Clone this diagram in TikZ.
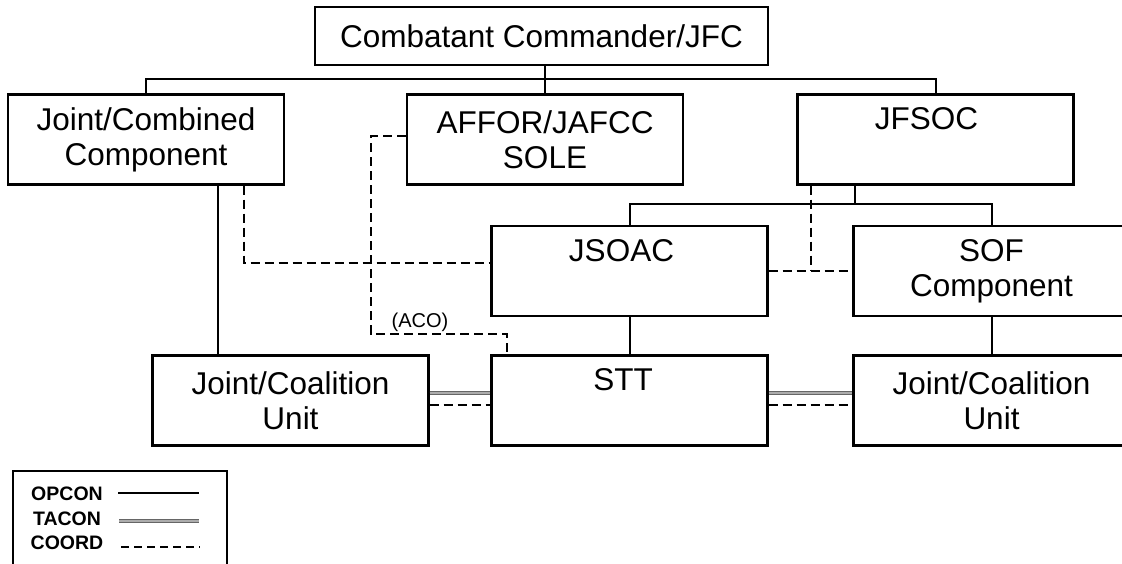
\documentclass[tikz,border=0pt]{standalone}
\usepackage{fontspec}
\setmainfont{Liberation Sans}
\newcommand\mainfs{\fontsize{31.5pt}{35pt}\selectfont}
\newcommand\legfs{\fontsize{19.5pt}{22pt}\selectfont\bfseries}
\newcommand\acofs{\fontsize{20pt}{22pt}\selectfont}
\begin{document}
\begin{tikzpicture}[x=1pt,y=-1pt,
  box/.style={draw, line width=2.2pt, minimum width=276pt, minimum height=90pt, inner sep=0pt, align=center, font=\mainfs},
  opcon/.style={line width=2pt},
  coord/.style={line width=2pt, dash pattern=on 9pt off 5pt},
  tacon/.style={line width=1pt, draw=gray!80!black, double=gray!65, double distance=1.8pt},
]
\useasboundingbox (0,0) rectangle (1122,564);
\clip (0,0) rectangle (1122,564);

\node[box, minimum width=453pt, minimum height=58pt] (cc) at (541.5,36) {Combatant Commander/JFC};
\node[box] (jcc) at (146,139.5) {Joint/Combined\\Component};
\node[box] (affor) at (545,139.5) {AFFOR/JAFCC\\SOLE};
\node[box] (jfsoc) at (935.5,139.5) {JFSOC\hspace*{18pt}\\\phantom{Comp}};
\node[box] (jsoac) at (629.5,271) {JSOAC\hspace*{16pt}\\\phantom{Comp}};
\node[box] (sof) at (991.5,271) {SOF\\Component};
\node[box] (jcu1) at (290.5,400.5) {Joint/Coalition\\Unit};
\node[box] (stt) at (629.5,400.5) {STT\hspace*{13pt}\\\phantom{Comp}};
\node[box] (jcu2) at (991.5,400.5) {Joint/Coalition\\Unit};

% OPCON connectors
\coordinate (busA) at (0,79);
\draw[opcon] (jcc.north) |- (jfsoc.north|-busA) -- (jfsoc.north);
\draw[opcon] (affor.north) -- (affor.north|-cc.south);
\coordinate (busB) at (855,204);
\draw[opcon] (jfsoc.south-|busB) -- (busB);
\draw[opcon] (jsoac.north) |- (busB) -| (sof.north);
\draw[opcon] ([xshift=72pt]jcc.south) -- ([xshift=72pt]jcc.south|-jcu1.north);
\draw[opcon] (jsoac.south) -- (stt.north);
\draw[opcon] (sof.south) -- (jcu2.north);

% TACON
\draw[tacon] ([yshift=7.5pt]jcu1.east) -- ([yshift=7.5pt]stt.west);
\draw[tacon] ([yshift=7.5pt]stt.east) -- ([yshift=7.5pt]jcu2.west);

% COORD
\draw[coord] ([yshift=-4.5pt]jcu1.east) -- ([yshift=-4.5pt]stt.west);
\draw[coord] ([yshift=-4.5pt]stt.east) -- ([yshift=-4.5pt]jcu2.west);
\draw[coord] ([xshift=98pt]jcc.south) |- ([yshift=8pt]jsoac.west);
\coordinate (acoL) at (371,334);
\coordinate (acoR) at (507,334);
\draw[coord] ([yshift=3.5pt]affor.west) -| (acoL) -- (acoR) -- (acoR|-stt.north);
\node[font=\acofs] (aco) at (420,322) {(ACO)};
\coordinate (jx) at (811,271);
\draw[coord] (jsoac.east) -- (sof.west);
\draw[coord] (jfsoc.south-|jx) -- (jx);

% Legend
\draw[line width=2pt] (13,570) |- (227,471) -- (227,570);
\node[font=\legfs] (lop) at (67,494) {OPCON};
\node[font=\legfs] (lta) at (67,519) {TACON};
\node[font=\legfs] (lco) at (67,543) {COORD};
\coordinate (lopA) at (118,493);
\coordinate (lopB) at (199,493);
\coordinate (ltaA) at (119,521);
\coordinate (ltaB) at (199,521);
\coordinate (lcoA) at (121,547);
\coordinate (lcoB) at (200,547);
\draw[opcon] (lopA) -- (lopB);
\draw[tacon] (ltaA) -- (ltaB);
\draw[coord, dash pattern=on 8pt off 5pt] (lcoA) -- (lcoB);
\end{tikzpicture}
\end{document}
